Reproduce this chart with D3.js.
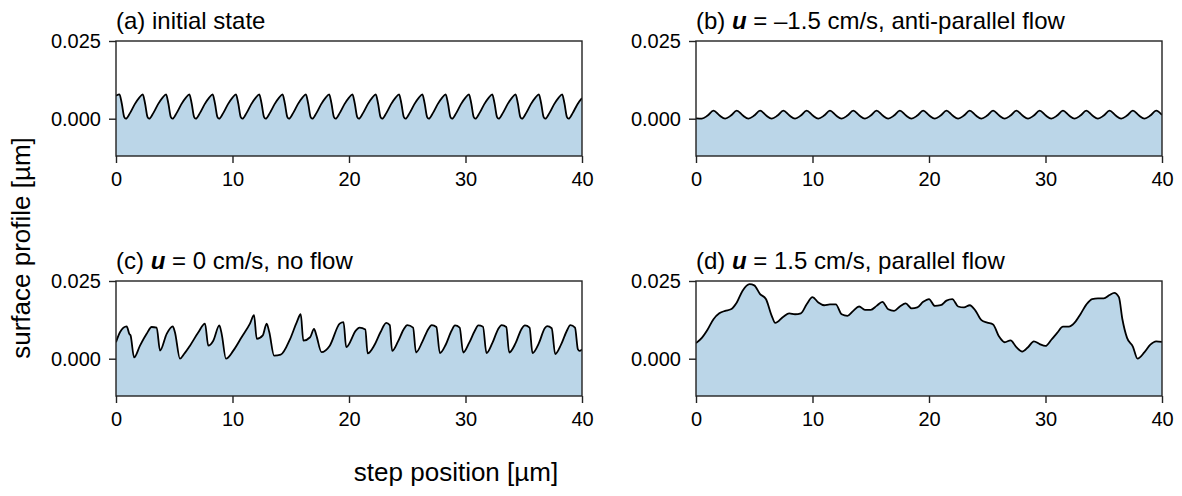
<!DOCTYPE html>
<html>
<head>
<meta charset="utf-8">
<script src="https://cdn.jsdelivr.net/npm/d3@7"></script>
<style>
	body { margin: 0; background: #fff; }
	svg text { font-family: "Liberation Sans", Arial, Helvetica, sans-serif; fill: #000; }
</style>
</head>
<body>
<svg id="chart" width="1182" height="496"></svg>
<script>
// axis ticks / domains
const X_TICKS = [0, 10, 20, 30, 40];
const Y_TICKS = [0, 0.025];
const X_DOMAIN = [0, 40];
const Y_DOMAIN = [-0.012, 0.025];

// panel titles (the "u" gets bold italic)
const TITLES = [
	['(a) initial state', null, ''],
	['(b) ', 'u', ' = \u20131.5 cm/s, anti-parallel flow'],
	['(c) ', 'u', ' = 0 cm/s, no flow'],
	['(d) ', 'u', ' = 1.5 cm/s, parallel flow']
];

// (a) initial state: step position [um] / surface profile [um]
const aX = [0,
	0.3,0.5,0.7,0.85,1.2,1.6,2, 2.3,2.5,2.7,2.85,3.2,3.6,4,
	4.3,4.5,4.7,4.85,5.2,5.6,6, 6.3,6.5,6.7,6.85,7.2,7.6,8,
	8.3,8.5,8.7,8.85,9.2,9.6,10, 10.3,10.5,10.7,10.85,11.2,11.6,12,
	12.3,12.5,12.7,12.85,13.2,13.6,14, 14.3,14.5,14.7,14.85,15.2,15.6,16,
	16.3,16.5,16.7,16.85,17.2,17.6,18, 18.3,18.5,18.7,18.85,19.2,19.6,20,
	20.3,20.5,20.7,20.85,21.2,21.6,22, 22.3,22.5,22.7,22.85,23.2,23.6,24,
	24.3,24.5,24.7,24.85,25.2,25.6,26, 26.3,26.5,26.7,26.85,27.2,27.6,28,
	28.3,28.5,28.7,28.85,29.2,29.6,30, 30.3,30.5,30.7,30.85,31.2,31.6,32,
	32.3,32.5,32.7,32.85,33.2,33.6,34, 34.3,34.5,34.7,34.85,35.2,35.6,36,
	36.3,36.5,36.7,36.85,37.2,37.6,38, 38.3,38.5,38.7,38.85,39.2,39.6,40];
const aY = [0.0074,
	0.0078,0.0048,0.0006,0,0.0018,0.0046,0.0068, 0.0078,0.0048,0.0006,0,0.0018,0.0046,0.0068,
	0.0078,0.0048,0.0006,0,0.0018,0.0046,0.0068, 0.0078,0.0048,0.0006,0,0.0018,0.0046,0.0068,
	0.0078,0.0048,0.0006,0,0.0018,0.0046,0.0068, 0.0078,0.0048,0.0006,0,0.0018,0.0046,0.0068,
	0.0078,0.0048,0.0006,0,0.0018,0.0046,0.0068, 0.0078,0.0048,0.0006,0,0.0018,0.0046,0.0068,
	0.0078,0.0048,0.0006,0,0.0018,0.0046,0.0068, 0.0078,0.0048,0.0006,0,0.0018,0.0046,0.0068,
	0.0078,0.0048,0.0006,0,0.0018,0.0046,0.0068, 0.0078,0.0048,0.0006,0,0.0018,0.0046,0.0068,
	0.0078,0.0048,0.0006,0,0.0018,0.0046,0.0068, 0.0078,0.0048,0.0006,0,0.0018,0.0046,0.0068,
	0.0078,0.0048,0.0006,0,0.0018,0.0046,0.0068, 0.0078,0.0048,0.0006,0,0.0018,0.0046,0.0068,
	0.0078,0.0048,0.0006,0,0.0018,0.0046,0.0068, 0.0078,0.0048,0.0006,0,0.0018,0.0046,0.0068,
	0.0078,0.0048,0.0006,0,0.0018,0.0046,0.0068, 0.0078,0.0048,0.0006,0,0.0018,0.0046,0.0066];

// (b) anti-parallel flow
const bX = [0,
	0.5,1,1.5,2, 2.5,3,3.5,4, 4.5,5,5.5,6, 6.5,7,7.5,8, 8.5,9,9.5,10,
	10.5,11,11.5,12, 12.5,13,13.5,14, 14.5,15,15.5,16, 16.5,17,17.5,18, 18.5,19,19.5,20,
	20.5,21,21.5,22, 22.5,23,23.5,24, 24.5,25,25.5,26, 26.5,27,27.5,28, 28.5,29,29.5,30,
	30.5,31,31.5,32, 32.5,33,33.5,34, 34.5,35,35.5,36, 36.5,37,37.5,38, 38.5,39,39.5,40];
const bY = [0.0001,
	0,0.0010,0.0026,0.0011, 0,0.0010,0.0026,0.0011, 0,0.0010,0.0026,0.0011, 0,0.0010,0.0026,0.0011, 0,0.0010,0.0026,0.0011,
	0,0.0010,0.0026,0.0011, 0,0.0010,0.0026,0.0011, 0,0.0010,0.0026,0.0011, 0,0.0010,0.0026,0.0011, 0,0.0010,0.0026,0.0011,
	0,0.0010,0.0026,0.0011, 0,0.0010,0.0026,0.0011, 0,0.0010,0.0026,0.0011, 0,0.0010,0.0026,0.0011, 0,0.0010,0.0026,0.0011,
	0,0.0010,0.0026,0.0011, 0,0.0010,0.0026,0.0011, 0,0.0010,0.0026,0.0011, 0,0.0010,0.0026,0.0011, 0,0.0010,0.0026,0.0012];

// (c) no flow
const cX = [0, 0.34, 0.92, 1.14, 1.25, 1.55, 2.06, 2.63, 3.06, 3.49, 3.78, 4.35, 4.87, 5.06, 5.49,
	5.84, 6.35, 7.07, 7.64, 7.92, 8.35, 8.87, 9.07, 9.44, 10.07, 10.78, 11.5, 11.85, 12.08,
	12.6, 12.93, 13.16, 13.57, 14.14, 14.95, 15.52, 15.86, 16.08, 16.66, 17.0, 17.2, 17.64,
	18.35, 19.2, 19.53, 19.76, 20.6, 20.9, 21.4, 21.6,
	22.2, 22.7, 23.2, 23.5, 23.7, 24.2, 24.7, 25.0, 25.5, 25.75,
	26.3, 26.8, 27.1, 27.5, 27.8, 28.3, 28.8, 29.1, 29.5, 29.8,
	30.3, 30.8, 31.1, 31.5, 31.8, 32.3, 32.8, 33.1, 33.5, 33.75,
	34.3, 34.8, 35.1, 35.5, 35.75, 36.3, 36.8, 37.0, 37.4, 37.7,
	38.2, 38.7, 39.0, 39.4, 39.65, 39.8, 40];
const cY = [0.0053, 0.0085, 0.0104, 0.0080, 0.0075, 0.0004, 0.0042, 0.0080, 0.0102, 0.0100, 0.0026, 0.0080, 0.0104, 0.0085, 0.0000,
	0.0015, 0.0042, 0.0085, 0.0113, 0.0042, 0.0058, 0.0107, 0.0080, 0.0000, 0.0026, 0.0069, 0.0113, 0.0140, 0.0064,
	0.0075, 0.0113, 0.0085, 0.0010, 0.0013, 0.0064, 0.0118, 0.0143, 0.0058, 0.0069, 0.0096, 0.0075, 0.0021,
	0.0042, 0.0113, 0.0118, 0.0037, 0.0091, 0.0100, 0.0094, 0.0017,
	0.0045, 0.0085, 0.0115, 0.0108, 0.0025, 0.0055, 0.0095, 0.0108, 0.0100, 0.0020,
	0.0055, 0.0095, 0.0108, 0.0102, 0.0018, 0.0045, 0.0090, 0.0107, 0.0100, 0.0020,
	0.0050, 0.0090, 0.0107, 0.0103, 0.0018, 0.0050, 0.0095, 0.0108, 0.0102, 0.0020,
	0.0050, 0.0095, 0.0107, 0.0100, 0.0018, 0.0050, 0.0098, 0.0105, 0.0098, 0.0015,
	0.0045, 0.0090, 0.0108, 0.0100, 0.0030, 0.0025, 0.0030];

// (d) parallel flow
const dX = [0, 0.5, 1, 1.5, 2, 2.5, 3, 3.5, 4, 4.6, 5, 5.5, 6, 6.5, 6.8, 7.5, 8, 8.5, 9, 9.5,
	10, 10.5, 11, 11.5, 12, 12.5, 13, 13.5, 14, 14.5, 15, 15.5, 16, 16.5, 17, 17.5, 18, 18.5, 19, 19.5,
	20, 20.5, 21, 21.5, 22, 22.5, 23, 23.5, 24, 24.5, 25, 25.5, 26, 26.5, 27, 27.5, 28, 28.5, 29, 29.5,
	30, 30.5, 31, 31.5, 32, 32.5, 33, 33.5, 34, 34.5, 35, 35.5, 35.9, 36.3, 36.6, 37, 37.5, 37.9, 38.5, 39, 39.5, 40];
const dY = [0.0050, 0.0067, 0.0094, 0.0127, 0.0146, 0.0154, 0.0159, 0.0181, 0.0219, 0.0240, 0.0236, 0.0208, 0.0192, 0.0138, 0.0115, 0.0135, 0.0146, 0.0143, 0.0146, 0.0175,
	0.0198, 0.0181, 0.0172, 0.0175, 0.0175, 0.0143, 0.0138, 0.0154, 0.0168, 0.0157, 0.0157, 0.0170, 0.0183, 0.0159, 0.0154, 0.0168, 0.0178, 0.0162, 0.0165, 0.0183,
	0.0192, 0.0170, 0.0172, 0.0187, 0.0192, 0.0168, 0.0165, 0.0172, 0.0154, 0.0124, 0.0116, 0.0110, 0.0072, 0.0053, 0.0059, 0.0037, 0.0023, 0.0037, 0.0056, 0.0047,
	0.0041, 0.0061, 0.0083, 0.0103, 0.0103, 0.0116, 0.0143, 0.0174, 0.0192, 0.0194, 0.0194, 0.0205, 0.0212, 0.0198, 0.0127, 0.0067, 0.0039, 0.0000, 0.0021, 0.0045, 0.0056, 0.0054];

// layout configs
const PANEL_W = 466;
const PANEL_H = 115;
const PANEL_POS = [[116, 41], [696, 41], [116, 281], [696, 281]];
const FILL_COLOR = '#1f77b4';
const FILL_OPACITY = 0.3;
const TICK_FONT = 20;
const TITLE_FONT = 24;
const LABEL_FONT = 26;

const series = [[aX, aY], [bX, bY], [cX, cY], [dX, dY]];

const svg = d3.select('#chart');

const x = d3.scaleLinear().domain(X_DOMAIN).range([0, PANEL_W]);
const y = d3.scaleLinear().domain(Y_DOMAIN).range([PANEL_H, 0]);

const area = d3.area()
	.x(d => x(d[0]))
	.y0(PANEL_H)
	.y1(d => y(d[1]))
	.curve(d3.curveMonotoneX);

const line = d3.line()
	.x(d => x(d[0]))
	.y(d => y(d[1]))
	.curve(d3.curveMonotoneX);

series.forEach(([xs, ys], i) => {
	const pts = xs.map((v, j) => [v, ys[j]]);
	const [px, py] = PANEL_POS[i];
	const g = svg.append('g').attr('transform', `translate(${px},${py})`);

	// clip so nothing spills out of the frame
	g.append('clipPath').attr('id', `clip${i}`)
		.append('rect').attr('width', PANEL_W).attr('height', PANEL_H);

	const plot = g.append('g').attr('clip-path', `url(#clip${i})`);
	plot.append('path')
		.datum(pts)
		.attr('d', area)
		.attr('fill', FILL_COLOR)
		.attr('fill-opacity', FILL_OPACITY);
	plot.append('path')
		.datum(pts)
		.attr('d', line)
		.attr('fill', 'none')
		.attr('stroke', '#000')
		.attr('stroke-width', 1.8)
		.attr('stroke-linejoin', 'round');

	// axes
	const xAxis = g.append('g')
		.attr('transform', `translate(0,${PANEL_H})`)
		.call(d3.axisBottom(x).tickValues(X_TICKS).tickFormat(d3.format('d')).tickSize(7).tickPadding(9));
	const yAxis = g.append('g')
		.call(d3.axisLeft(y).tickValues(Y_TICKS).tickFormat(d3.format('.3f')).tickSize(7).tickPadding(8));
	[xAxis, yAxis].forEach(ax => {
		ax.select('.domain').remove();
		ax.selectAll('.tick line').attr('stroke', '#222').attr('stroke-width', 1.4);
		ax.selectAll('.tick text')
			.attr('font-size', TICK_FONT)
			.attr('font-family', '"Liberation Sans", Arial, sans-serif')
			.attr('fill', '#000');
	});

	// frame
	g.append('rect')
		.attr('width', PANEL_W)
		.attr('height', PANEL_H)
		.attr('fill', 'none')
		.attr('stroke', '#222')
		.attr('stroke-width', 1.4);

	// title
	const [pre, bold, post] = TITLES[i];
	const t = g.append('text')
		.attr('x', 0)
		.attr('y', -12)
		.attr('font-size', TITLE_FONT);
	t.append('tspan').text(pre);
	if (bold) {
		t.append('tspan').attr('font-weight', 'bold').attr('font-style', 'italic').text(bold);
		t.append('tspan').text(post);
	}
});

// shared axis labels
svg.append('text')
	.attr('transform', 'translate(30,248) rotate(-90)')
	.attr('text-anchor', 'middle')
	.attr('font-size', LABEL_FONT)
	.text('surface profile [\u00b5m]');

svg.append('text')
	.attr('x', 456)
	.attr('y', 481)
	.attr('text-anchor', 'middle')
	.attr('font-size', LABEL_FONT)
	.text('step position [\u00b5m]');
</script>
</body>
</html>
